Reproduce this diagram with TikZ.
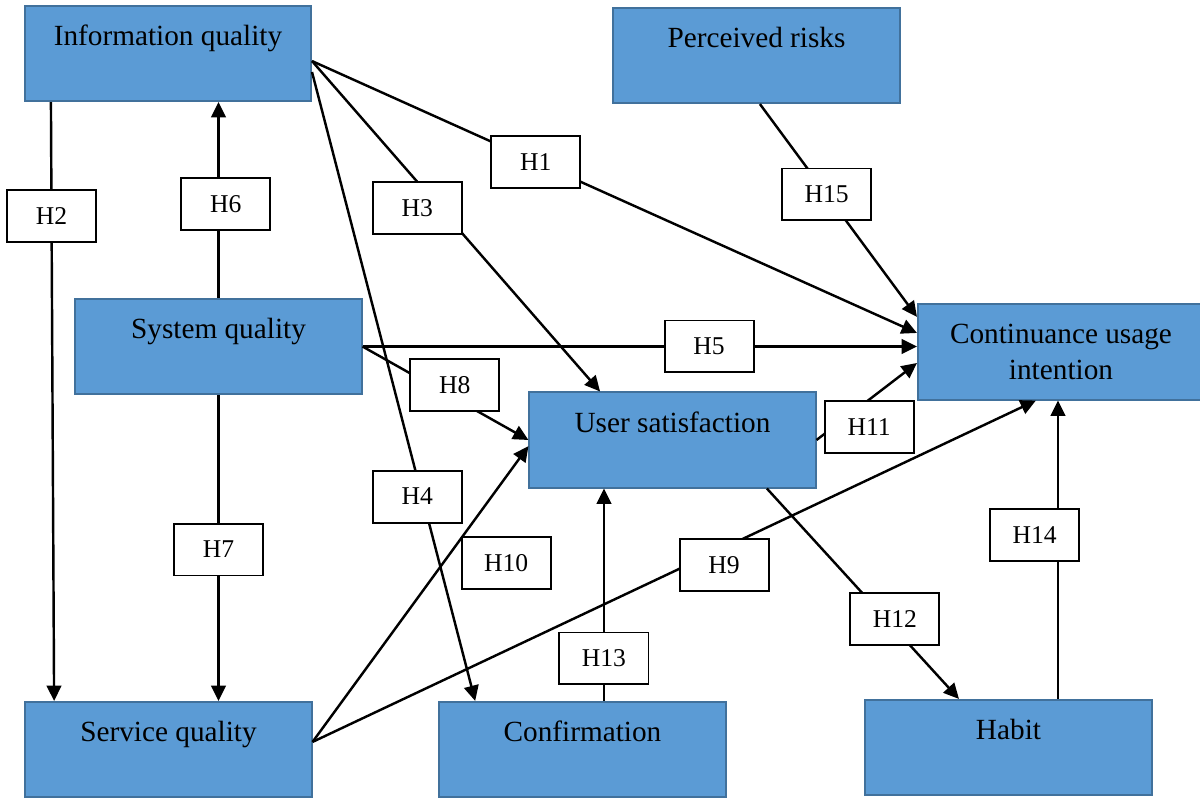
\documentclass[tikz,border=0pt]{standalone}
\usepackage{fontspec}
\setmainfont{Liberation Serif}
\usetikzlibrary{arrows.meta}
\definecolor{boxfill}{HTML}{5B9BD5}
\definecolor{boxline}{HTML}{41719C}
\tikzset{
  construct base/.style = {draw=boxline, fill=boxfill, line width=0.8pt,
                           minimum width=117.3pt, inner sep=0pt,
                           font=\fontsize{12}{14.8}\selectfont},
  construct/.style = {construct base, text height=16.4pt, text depth=22.6pt},
  hypothesis/.style = {draw, fill=white, line width=0.8pt, inner sep=0pt,
                       minimum width=36.5pt, minimum height=21.3pt,
                       font=\fontsize{10.5}{12}\selectfont},
  link/.style = {line width=1pt, arrows={-Triangle[length=6.3pt, width=6pt]}},
}

\begin{document}
\begin{tikzpicture}[x=0.41pt, y=-0.41pt]
  \useasboundingbox (0, 0) rectangle (1200, 798);

  %% The constructs of the model
  \node [construct] (iq) at (168, 53.5) {Information quality};
  \node [construct] (pr) at (756.5, 55.5) {Perceived risks};
  \node [construct] (sysq) at (218.5, 346.5) {System quality};
  \node [construct] (us) at (672.5, 440) {User satisfaction};
  \node [construct base, minimum height=39pt, align=center]
        (cui) at (1061, 352) {Continuance usage\\intention};
  \node [construct] (svcq) at (168.5, 749.5) {Service quality};
  \node [construct] (conf) at (582.5, 749.5) {Confirmation};
  \node [construct] (hab) at (1008.5, 747.5) {Habit};

  %% Hypotheses leaving information quality
  \draw [link] ([yshift=-3.1pt] iq.east) --
    node [hypothesis, pos=0.37] (h1) {H1} ([yshift=7.8pt] cui.west);
  \draw [link] ([xshift=-48pt] iq.south) --
    node [hypothesis, pos=0.19] (h2) {H2} ([xshift=-46.9pt] svcq.north);
  \draw [link] ([yshift=-3.1pt] iq.east) --
    node [hypothesis, pos=0.41, xshift=-5.3pt, yshift=-4.7pt] (h3) {H3}
    ([xshift=-29.7pt] us.north);
  \draw [link] ([yshift=-7.6pt] iq.east) --
    node [hypothesis, pos=0.675, xshift=-2pt] (h4) {H4} ([xshift=-44pt] conf.north);

  %% Hypotheses leaving system quality
  \draw [link] (sysq.east) --
    node [hypothesis, pos=0.625] (h5) {H5} (sysq.east -| cui.west);
  \draw [link] (sysq.north) --
    node [hypothesis, pos=0.48, xshift=3pt] (h6) {H6} (sysq.north |- iq.south);
  \draw [link] (sysq.south) --
    node [hypothesis, pos=0.505] (h7) {H7} (sysq.south |- svcq.north);
  \draw [link] (sysq.east) --
    node [hypothesis, pos=0.556, yshift=5.5pt] (h8) {H8} (us.west);

  %% Hypotheses leaving service quality
  \draw [link] ([yshift=3.1pt] svcq.east) --
    node [hypothesis, pos=0.569, yshift=-7pt] (h9) {H9} ([xshift=-10.3pt] cui.south);
  \draw [link] ([yshift=3.1pt] svcq.east) --
    node [hypothesis, pos=0.605, xshift=25.8pt] (h10) {H10} ([yshift=-2.5pt] us.west);

  %% Hypotheses around user satisfaction and habit
  \draw [link] (us.east) --
    node [hypothesis, pos=0.524, yshift=-11.2pt] (h11) {H11} ([yshift=-4.5pt] cui.west);
  \draw [link] ([xshift=38.7pt] us.south) --
    node [hypothesis, pos=0.618, xshift=3.8pt] (h12) {H12} ([xshift=-20.3pt] hab.north);
  \coordinate (conf_out) at ([xshift=8.8pt] conf.north);
  \draw [link] (conf_out) --
    node [hypothesis, pos=0.2] (h13) {H13} (conf_out |- us.south);
  \coordinate (hab_out) at ([xshift=20.3pt] hab.north);
  \draw [link] (hab_out) --
    node [hypothesis, pos=0.548, xshift=-9.6pt] (h14) {H14} (hab_out |- cui.south);
  \draw [link] ([xshift=1.4pt] pr.south) --
    node [hypothesis, pos=0.425] (h15) {H15} ([yshift=14.4pt] cui.west);
\end{tikzpicture}
\end{document}
